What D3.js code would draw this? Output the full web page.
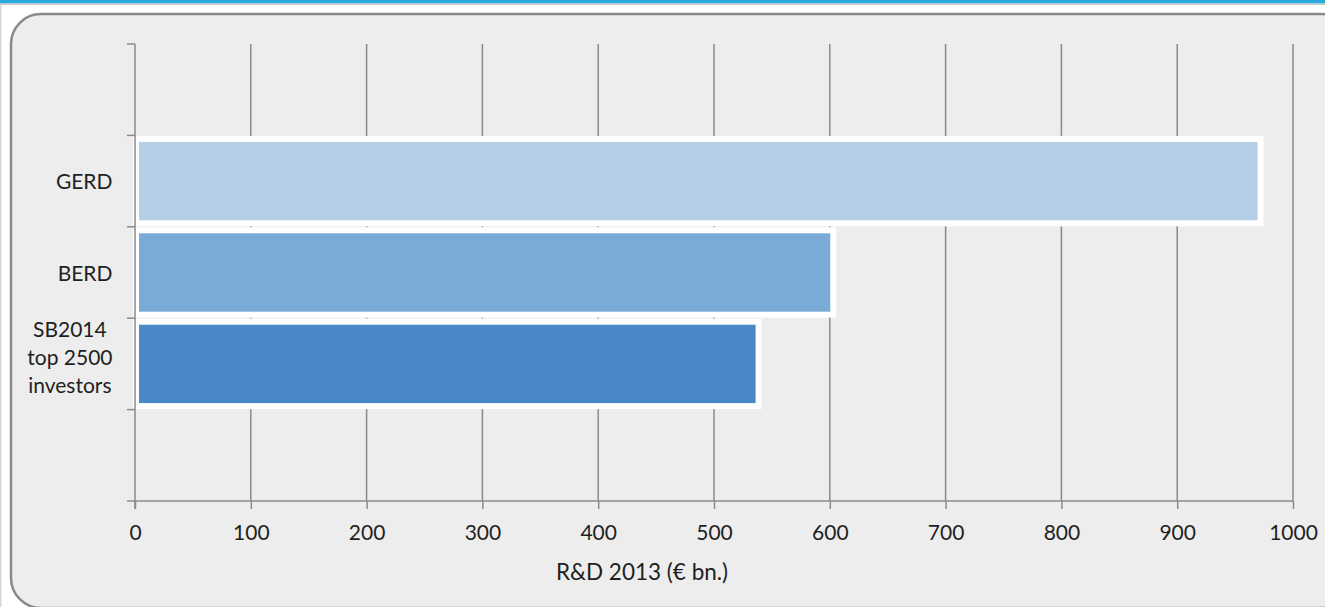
<!DOCTYPE html>
<html>
<head>
<meta charset="utf-8">
<script src="https://cdn.jsdelivr.net/npm/d3@7"></script>
<style>
  html, body { margin: 0; padding: 0; background: #ffffff; }
  svg { display: block; }
  text { font-family: Lato, "Open Sans", sans-serif; fill: #1f1f1f; }
</style>
</head>
<body>
<svg id="chart" width="1325" height="607"></svg>
<script>
// ---- data ----
const categories = ["GERD", "BERD", "SB2014\ntop 2500\ninvestors"];
const values = [972, 603, 538.5];
const colors = ["#b5cfe7", "#7aaad6", "#4a87c7"];
const xTicks = [0, 100, 200, 300, 400, 500, 600, 700, 800, 900, 1000];
const xTitle = "R&D 2013 (€ bn.)";

(function () {
const svg = d3.select("#chart");
const W = 1325, H = 607;

// top bar
svg.append("rect").attr("x", 0).attr("y", 0).attr("width", W).attr("height", 3.5).attr("fill", "#29abe2");
svg.append("rect").attr("x", 0).attr("y", 3.5).attr("width", W).attr("height", 1.5).attr("fill", "#c9c9c9");
svg.append("rect").attr("x", 0).attr("y", 5).attr("width", 1.5).attr("height", H).attr("fill", "#d6d6d6");

// panel
svg.append("rect")
  .attr("x", 11).attr("y", 14).attr("width", 1340).attr("height", 594)
  .attr("rx", 30).attr("ry", 30)
  .attr("fill", "#ecedec").attr("stroke", "#8a8a8a").attr("stroke-width", 2.5);

const pL = 135, pR = 1293, pT = 44, pB = 501;

const x = d3.scaleLinear().domain([0, 1000]).range([pL, pR]);
const y = d3.scaleBand().domain(categories).range([pT, pB]).paddingInner(0).paddingOuter(1);
const step = y.step();

// gridlines
svg.append("g").selectAll("line").data(xTicks.slice(1)).join("line")
  .attr("x1", d => x(d)).attr("x2", d => x(d))
  .attr("y1", pT).attr("y2", pB)
  .attr("stroke", "#8a8a8a").attr("stroke-width", 1.5);

// bars
svg.append("g").selectAll("rect").data(categories).join("rect")
  .attr("x", x(0) + 1)
  .attr("y", d => y(d) + 3.5)
  .attr("width", (d, i) => x(values[i]) - x(0) - 1)
  .attr("height", step - 7)
  .attr("fill", (d, i) => colors[i])
  .attr("stroke", "#ffffff").attr("stroke-width", 6);

// y axis line + ticks at band boundaries
const gy = svg.append("g");
gy.append("line").attr("x1", pL).attr("x2", pL).attr("y1", pT).attr("y2", pB + 8)
  .attr("stroke", "#8a8a8a").attr("stroke-width", 1.5);
const boundaries = [y.range()[0]].concat(categories.map(c => y(c)), categories.map(c => y(c) + step), [y.range()[1]]);
gy.selectAll("line.t").data(Array.from(new Set(boundaries.map(b => Math.round(b * 10) / 10)))).join("line")
  .attr("class", "t")
  .attr("x1", pL - 8).attr("x2", pL)
  .attr("y1", d => d).attr("y2", d => d)
  .attr("stroke", "#8a8a8a").attr("stroke-width", 1.5);

// y labels: block right-aligned at labelRight, lines centred within block
const labelRight = 112.5;
categories.forEach(c => {
  const lines = c.split("\n");
  const n = lines.length;
  const cy = y(c) + step / 2;
  const t = svg.append("text").attr("text-anchor", "middle").attr("font-size", 21);
  const spans = lines.map((ln, i) => t.append("tspan")
      .attr("y", cy + 8 + (i - (n - 1) / 2) * 28 - (n > 1 ? 6.5 : 0))
      .text(ln));
  const maxW = d3.max(spans, s => s.node().getComputedTextLength());
  spans.forEach(s => s.attr("x", labelRight - maxW / 2));
});

// x axis
const gx = svg.append("g").attr("transform", `translate(0,${pB})`)
  .call(d3.axisBottom(x).tickValues(xTicks).tickSize(8).tickPadding(0).tickFormat(d3.format("d")));
gx.select(".domain").attr("stroke", "#8a8a8a").attr("stroke-width", 1.5).attr("d", `M${pL},0H${pR}`);
gx.selectAll(".tick line").attr("stroke", "#8a8a8a").attr("stroke-width", 1.5);
gx.selectAll(".tick text").attr("font-size", 21).attr("font-family", "Lato, 'Open Sans', sans-serif")
  .attr("fill", "#1f1f1f").attr("dy", null).attr("y", 39);

// x title
svg.append("text").attr("x", 642).attr("y", 580).attr("text-anchor", "middle")
  .attr("font-size", 22.5).text(xTitle);
})();
</script>
</body>
</html>
